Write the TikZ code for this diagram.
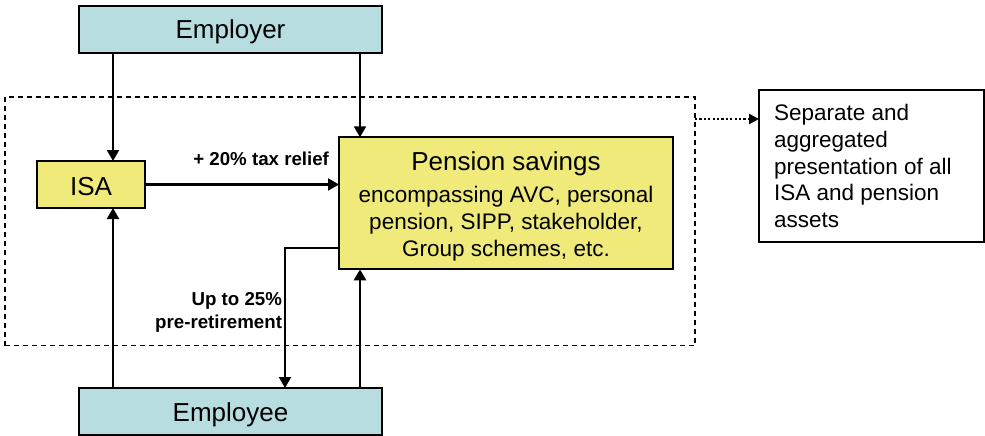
\documentclass[tikz,border=0pt]{standalone}
\usepackage{fontspec}
\setmainfont{Liberation Sans}
\usetikzlibrary{arrows.meta}
\definecolor{tealfill}{RGB}{184,221,225}
\definecolor{yelfill}{RGB}{240,234,122}
\newcommand\bigfnt{\fontsize{26}{31}\selectfont}
\newcommand\midfnt{\fontsize{22.5}{27}\selectfont}
\newcommand\lblfnt{\bfseries\fontsize{18.7}{23}\selectfont}
\begin{document}
\begin{tikzpicture}[x=1pt,y=-1pt,
  boxbase/.style={draw=black, line width=2pt, inner sep=0pt, outer sep=0pt},
  tealbox/.style={boxbase, fill=tealfill, font=\bigfnt, text height=24pt, text depth=5pt},
  yelbox/.style={boxbase, fill=yelfill},
  whitebox/.style={boxbase, fill=white},
  arr/.style={line width=2.2pt, -{Triangle[length=11pt,width=12pt]}},
  dotarr/.style={line width=2.8pt, dash pattern=on 2.2pt off 2.2pt, -{Triangle[length=10pt,width=10pt]}},
  dashbox/.style={draw=black, line width=1.5pt, dash pattern=on 5pt off 4pt, inner sep=0pt, outer sep=0pt},
  txt/.style={inner sep=0pt, outer sep=0pt},
  lbl/.style={txt, font=\lblfnt}]
\useasboundingbox (0,0) rectangle (985,436);

% dashed scope
\node[dashbox, minimum width=690pt, minimum height=248.5pt] (scope) at (350,221.25) {};

% helper coordinates
\coordinate (cx1) at (113,0);
\coordinate (cx2) at (360,0);
\coordinate (cx3) at (285,0);
\coordinate (cy3) at (0,247.7);
\coordinate (cyd) at (0,119);

% boxes
\node[tealbox, minimum width=303pt, minimum height=47pt] (employer) at (230.5,29.5) {Employer};
\node[tealbox, minimum width=303pt, minimum height=47pt, text height=25pt] (employee) at (230.5,411.5) {Employee};
\node[yelbox, font=\bigfnt, text height=26pt, text depth=5pt, minimum width=108pt, minimum height=47pt] (isa) at (91,184.5) {ISA};
\node[yelbox, minimum width=334pt, minimum height=132pt] (pension) at (506,203.3) {};
\node[txt, anchor=base, font=\bigfnt] (ptitle) at (506,170.7) {Pension savings};
\node[txt, anchor=base, font=\midfnt] (pbody) at (506,202.7)
  {\begin{tabular}[t]{@{}c@{}}encompassing AVC, personal\\pension, SIPP, stakeholder,\\Group schemes, etc.\end{tabular}};
\node[whitebox, minimum width=225pt, minimum height=152pt] (present) at (871.5,166) {};
\node[txt, anchor=base west, font=\midfnt] (ptext) at (774,120)
  {\begin{tabular}[t]{@{}l@{}}Separate and\\aggregated\\presentation of all\\ISA and pension\\assets\end{tabular}};

% connectors
\draw[arr] (employer.south -| cx1) -- (isa.north -| cx1);
\draw[arr] (employer.south -| cx2) -- (pension.north -| cx2);
\draw[arr] (employee.north -| cx1) -- (isa.south -| cx1);
\draw[arr] (employee.north -| cx2) -- (pension.south -| cx2);
\draw[arr] (isa.east) -- (isa.east -| pension.west);
\draw[arr] (pension.west |- cy3) -| (employee.north -| cx3);
\draw[dotarr] (scope.east |- cyd) -- (present.west |- cyd);

% labels
\node[lbl, anchor=base east] (taxlbl) at (329,165) {+ 20\% tax relief};
\node[lbl, anchor=base east] (uplbl) at (282,305)
  {\begin{tabular}[t]{@{}r@{}}Up to 25\%\\pre-retirement\end{tabular}};
\end{tikzpicture}
\end{document}
